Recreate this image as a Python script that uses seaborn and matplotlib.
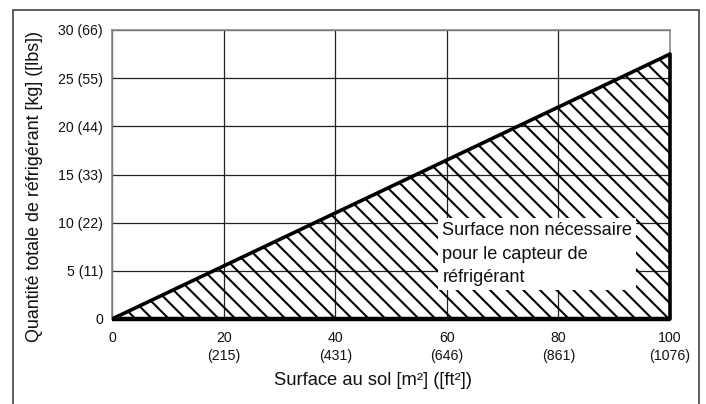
import matplotlib
matplotlib.use("Agg")
import matplotlib.pyplot as plt
from matplotlib.patches import Rectangle
import pandas as pd
import seaborn as sns

# Floor area (m²) and the matching total refrigerant charge limit (kg)
surface_m2 = [0, 100]
charge_kg = [0, 27.5]

x_ticks = [0, 20, 40, 60, 80, 100]
x_tick_labels = ["0", "20\n(215)", "40\n(431)", "60\n(646)", "80\n(861)", "100\n(1076)"]
y_ticks = [0, 5, 10, 15, 20, 25, 30]
y_tick_labels = ["0", "5 (11)", "10 (22)", "15 (33)", "20 (44)", "25 (55)", "30 (66)"]

x_label = "Surface au sol [m²] ([ft²])"
y_label = "Quantité totale de réfrigérant [kg] ([lbs])"
zone_label = "Surface non nécessaire\npour le capteur de\nréfrigérant"

sns.set_theme(style="white")
plt.rcParams["font.family"] = ["Liberation Sans", "DejaVu Sans"]
plt.rcParams["hatch.linewidth"] = 1.5
plt.rcParams["hatch.color"] = "black"

W, H, DPI = 706, 404, 100
fig = plt.figure(figsize=(W / DPI, H / DPI), dpi=DPI)
fig.patch.set_facecolor("white")

# plot area in pixel terms
left, right, top, bottom = 112, 670, 30, 319
ax = fig.add_axes([left / W, 1 - bottom / H, (right - left) / W, (bottom - top) / H])

df = pd.DataFrame({"surface": surface_m2, "charge": charge_kg})

ax.set_xlim(0, 100)
ax.set_ylim(0, 30)
ax.set_xticks(x_ticks)
ax.set_xticklabels(x_tick_labels, fontsize=10.2, color="#111111", linespacing=1.3)
ax.set_yticks(y_ticks)
ax.set_yticklabels(y_tick_labels, fontsize=10.2, color="#111111")
ax.tick_params(axis="x", length=0, pad=9)
ax.tick_params(axis="y", length=0, pad=6.5)

ax.grid(True, color="#222222", linewidth=0.9, zorder=0)
ax.set_axisbelow(True)
for s in ax.spines.values():
    s.set_color("#8a8a8a")
    s.set_linewidth(1.2)

# hatched zone below the limit line
ax.fill_between(df["surface"], df["charge"], 0, facecolor="none",
                edgecolor="black", hatch="\\\\", linewidth=0, zorder=2)

# label box sits over the hatching
ax.text(59.2, 10.05, zone_label, fontsize=13.1, color="#111111",
        ha="left", va="top", linespacing=1.5, zorder=3,
        bbox=dict(boxstyle="square,pad=0.22", facecolor="white", edgecolor="none"))

# heavy outline of the zone
sns.lineplot(data=df, x="surface", y="charge", color="black", linewidth=2.6,
             ax=ax, zorder=4, legend=False)
ax.plot([df["surface"].iloc[0], df["surface"].iloc[-1]], [0, 0], color="black",
        linewidth=3.2, zorder=4, solid_capstyle="butt", clip_on=False)
ax.plot([df["surface"].iloc[-1]] * 2, [0, df["charge"].iloc[-1]], color="black",
        linewidth=2.6, zorder=4, clip_on=False)

ax.set_xlabel(x_label, fontsize=13.2, color="#111111")
ax.set_ylabel(y_label, fontsize=12.9, color="#111111")
ax.xaxis.set_label_coords(0.467, -0.183)
ax.yaxis.set_label_coords(-0.124, 0.46)

# outer frame around the figure (open at the bottom edge)
frame = Rectangle((12.5 / W, -0.05), (699 - 12.5) / W, 1.05 - 10 / H,
                  transform=fig.transFigure, facecolor="none",
                  edgecolor="#333333", linewidth=1.1)
fig.patches.append(frame)

fig.savefig("out.png", dpi=DPI, facecolor="white")
